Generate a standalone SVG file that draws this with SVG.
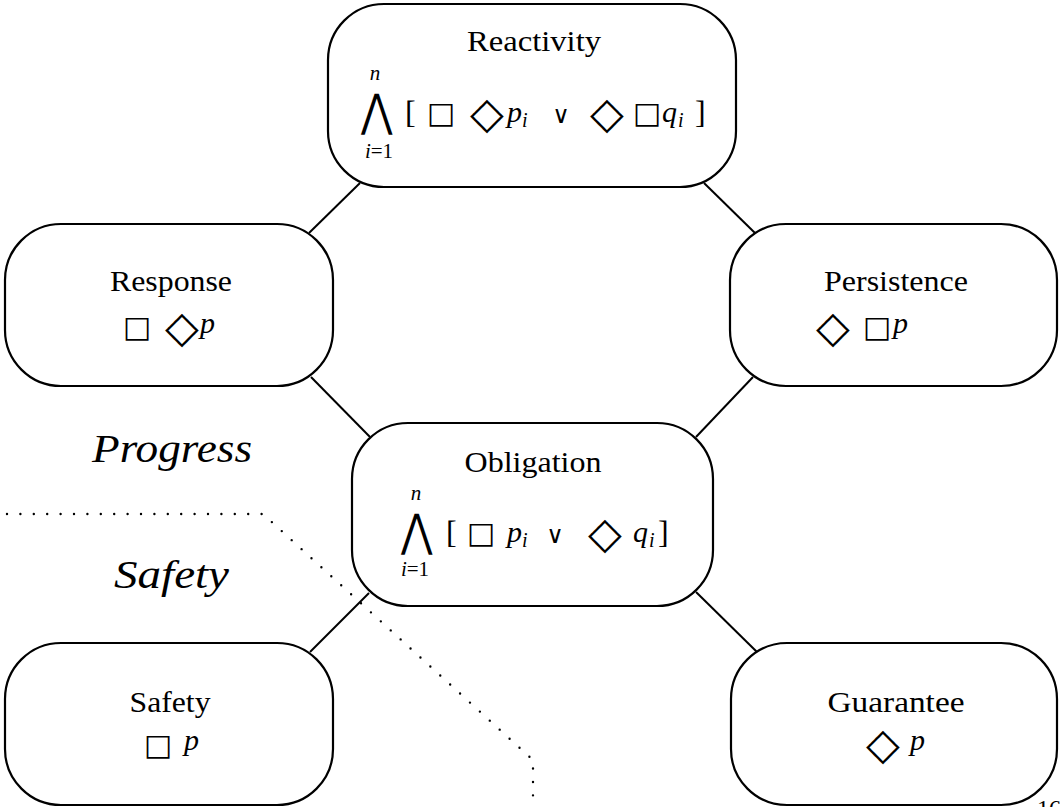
<svg xmlns="http://www.w3.org/2000/svg" width="1061" height="807" viewBox="0 0 1061 807">
<style>
.node{fill:#fff;stroke:#000;stroke-width:2.2}
.edge{stroke:#000;stroke-width:2;fill:none}
.dots{stroke:#000;stroke-width:2.4;fill:none;stroke-linecap:round;stroke-dasharray:0 13.4}
.lbl{font-family:"Liberation Serif",serif;font-size:30px;text-anchor:middle;fill:#000}
.it{font-family:"Liberation Serif",serif;font-style:italic;font-size:30px;fill:#000}
.sub{font-family:"Liberation Serif",serif;font-style:italic;font-size:20px;fill:#000}
.lim{font-family:"Liberation Serif",serif;font-size:21px;text-anchor:middle;fill:#000}
.br{font-family:"Liberation Serif",serif;font-size:32px;fill:#000}
.sq{font-family:"DejaVu Sans",sans-serif;font-size:30px;text-anchor:middle;dominant-baseline:central;fill:#000}
.dm{font-family:"DejaVu Sans",sans-serif;font-size:44px;text-anchor:middle;dominant-baseline:central;fill:#000}
.or{font-family:"DejaVu Serif",serif;font-size:24px;font-weight:200;text-anchor:middle;fill:#000}
.big{font-family:"DejaVu Sans ExtraLight","DejaVu Sans",sans-serif;font-weight:200;font-size:45px;text-anchor:middle;fill:#000}
.cls{font-family:"Liberation Serif",serif;font-style:italic;font-size:41px;fill:#000}
</style>
<g id="connectors">
<line class="edge" x1="360" y1="183" x2="309" y2="233"/>
<line class="edge" x1="704" y1="183" x2="755" y2="233"/>
<line class="edge" x1="311" y1="377" x2="370" y2="437"/>
<line class="edge" x1="753" y1="377" x2="696" y2="437"/>
<line class="edge" x1="369" y1="593" x2="310" y2="652"/>
<line class="edge" x1="696" y1="592" x2="757" y2="652"/>
</g>
<g id="region-boundary">
<polyline class="dots" points="7,514 263,514 533,760 533,807"/>
</g>
<g id="reactivity">
<rect class="node" x="328" y="4" width="408" height="183" rx="56"/>
<text class="lbl" x="534" y="51" textLength="134" lengthAdjust="spacingAndGlyphs">Reactivity</text>
<text class="lim" x="375" y="80"><tspan font-style="italic">n</tspan></text>
<text class="big" transform="translate(377 126) scale(0.85 1)">⋀</text>
<text class="lim" x="379" y="158"><tspan font-style="italic">i</tspan>=1</text>
<text class="br" x="405" y="123">[</text>
<text class="sq" x="441" y="112">□</text>
<text class="dm" x="487" y="112">◇</text>
<text class="it" x="507" y="122">p</text><text class="sub" x="522" y="127">i</text>
<text class="or" x="561" y="123">∨</text>
<text class="dm" x="607" y="112">◇</text>
<text class="sq" x="647" y="112">□</text>
<text class="it" x="662" y="122">q</text><text class="sub" x="678" y="127">i</text>
<text class="br" x="695" y="123">]</text>
</g>
<g id="response">
<rect class="node" x="5" y="224" width="328" height="162" rx="56"/>
<text class="lbl" x="171" y="291" textLength="122" lengthAdjust="spacingAndGlyphs">Response</text>
<text class="sq" x="137" y="326">□</text>
<text class="dm" x="182" y="326">◇</text>
<text class="it" x="200" y="333">p</text>
</g>
<g id="persistence">
<rect class="node" x="730" y="224" width="327" height="162" rx="56"/>
<text class="lbl" x="896" y="291" textLength="144" lengthAdjust="spacingAndGlyphs">Persistence</text>
<text class="dm" x="833" y="326">◇</text>
<text class="sq" x="877" y="326">□</text>
<text class="it" x="893" y="333">p</text>
</g>
<g id="obligation">
<rect class="node" x="352" y="423" width="361" height="183" rx="56"/>
<text class="lbl" x="533" y="472" textLength="137" lengthAdjust="spacingAndGlyphs">Obligation</text>
<text class="lim" x="416" y="500"><tspan font-style="italic">n</tspan></text>
<text class="big" transform="translate(417 546) scale(0.85 1)">⋀</text>
<text class="lim" x="415" y="576"><tspan font-style="italic">i</tspan>=1</text>
<text class="br" x="446" y="543">[</text>
<text class="sq" x="481" y="532">□</text>
<text class="it" x="507" y="542">p</text><text class="sub" x="522" y="547">i</text>
<text class="or" x="555" y="543">∨</text>
<text class="dm" x="605" y="532">◇</text>
<text class="it" x="633" y="542">q</text><text class="sub" x="649" y="547">i</text>
<text class="br" x="658" y="543">]</text>
</g>
<g id="safety">
<rect class="node" x="5" y="643" width="328" height="162" rx="56"/>
<text class="lbl" x="170" y="712" textLength="81" lengthAdjust="spacingAndGlyphs">Safety</text>
<text class="sq" x="158" y="744">□</text>
<text class="it" x="184" y="750">p</text>
</g>
<g id="guarantee">
<rect class="node" x="731" y="643" width="326" height="162" rx="56"/>
<text class="lbl" x="896" y="712" textLength="137" lengthAdjust="spacingAndGlyphs">Guarantee</text>
<text class="dm" x="883" y="743">◇</text>
<text class="it" x="910" y="750">p</text>
</g>
<g id="class-labels">
<text class="cls" x="92" y="462" textLength="160" lengthAdjust="spacingAndGlyphs">Progress</text>
<text class="cls" x="114" y="588" textLength="115" lengthAdjust="spacingAndGlyphs">Safety</text>
</g>
<text class="lbl" x="1037" y="816" style="text-anchor:start;font-size:24px">16</text>
</svg>
